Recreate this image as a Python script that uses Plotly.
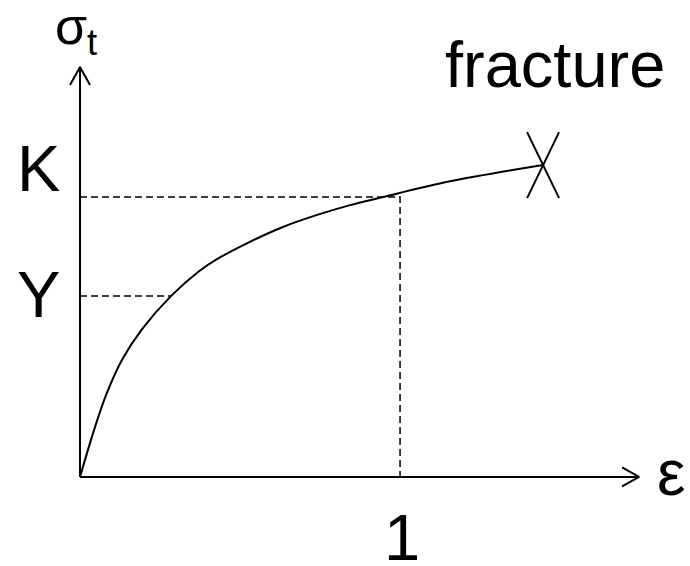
import plotly.graph_objects as go

# ---- data (strain in units of the "1" mark, stress in units of K)
strain = [0, 0.02, 0.047, 0.084, 0.131, 0.194, 0.284, 0.372, 0.428, 0.531,
          0.634, 0.741, 0.844, 0.947, 1.156, 1.447]
stress = [0, 0.078, 0.179, 0.300, 0.418, 0.528, 0.646, 0.735, 0.778, 0.840,
          0.893, 0.936, 0.971, 1.0, 1.056, 1.114]
yield_strain = 0.284
y_levels = [0.646, 1.0]          # Y and K
y_labels = ["Y", "K"]
x_marks = [1.0]
x_labels = ["1"]
x_axis_end = 1.747
y_axis_end = 1.464
fracture_label = "fracture"

W, H = 690, 566
x_range = [-0.25, 1.906]
y_range = [-0.318, 1.7036]
px_x = W / (x_range[1] - x_range[0])
px_y = H / (y_range[1] - y_range[0])

FONT = "Liberation Sans, Arial, sans-serif"
fig = go.Figure()
black = "black"

def line(xs, ys, width=2, dash=None):
    fig.add_trace(go.Scatter(x=xs, y=ys, mode="lines", hoverinfo="skip",
                             line=dict(color=black, width=width, dash=dash),
                             showlegend=False))

# axes
line([0, 0], [0, y_axis_end])
line([0, x_axis_end], [0, 0])
# open arrow heads
ah, aw = 18, 10
line([-aw / px_x, 0, aw / px_x], [y_axis_end - ah / px_y, y_axis_end, y_axis_end - ah / px_y])
line([x_axis_end - 17 / px_x, x_axis_end, x_axis_end - 17 / px_x], [9.5 / px_y, 0, -9.5 / px_y])

# dashed guides
dash = "7px,4px"
line([0, yield_strain], [y_levels[0], y_levels[0]], width=1.5, dash=dash)
line([0, x_marks[0], x_marks[0]], [y_levels[1], y_levels[1], 0], width=1.5, dash=dash)

# flow curve
fig.add_trace(go.Scatter(x=strain, y=stress, mode="lines", hoverinfo="skip",
                         line=dict(color=black, width=2, shape="spline", smoothing=1.0),
                         showlegend=False))

# fracture X mark
fx, fy = strain[-1], stress[-1]
dx, dy = 16 / px_x, 33 / px_y
line([fx - dx, fx + dx], [fy + dy, fy - dy])
line([fx + dx, fx - dx], [fy + dy, fy - dy])

# text
big = dict(size=65, family=FONT, color=black)
label_yshift = {"Y": 2, "K": 28}
annos = []
for v, t in zip(y_levels, y_labels):
    annos.append(dict(x=0, y=v, text=t, xanchor="right", yanchor="middle",
                      xshift=-18, yshift=label_yshift[t], showarrow=False, font=big))
for v, t in zip(x_marks, x_labels):
    annos.append(dict(x=v, y=0, text=t, xanchor="center", yanchor="top",
                      yshift=-22, xshift=2, showarrow=False, font=big))
annos.append(dict(x=x_axis_end, y=0, text="ε", xanchor="left", yanchor="middle",
                  xshift=16, yshift=4, showarrow=False, font=dict(size=64, family=FONT, color=black)))
annos.append(dict(x=0, y=y_axis_end, text="σ<sub><span style='color:black'>t</span></sub>",
                  xanchor="center", yanchor="bottom",
                  xshift=-4, yshift=2, showarrow=False, font=dict(size=52, family=FONT, color=black)))
annos.append(dict(x=fx, y=fy, text=fracture_label, xanchor="center", yanchor="bottom",
                  xshift=12, yshift=62, showarrow=False, font=big))

fig.update_layout(
    width=W, height=H, margin=dict(l=0, r=0, t=0, b=0),
    paper_bgcolor="white", plot_bgcolor="white",
    xaxis=dict(range=x_range, visible=False, fixedrange=True),
    yaxis=dict(range=y_range, visible=False, fixedrange=True),
    annotations=annos,
)
fig.write_html("out.html", config={"displayModeBar": False},
               post_script="document.body.style.margin='0';")
